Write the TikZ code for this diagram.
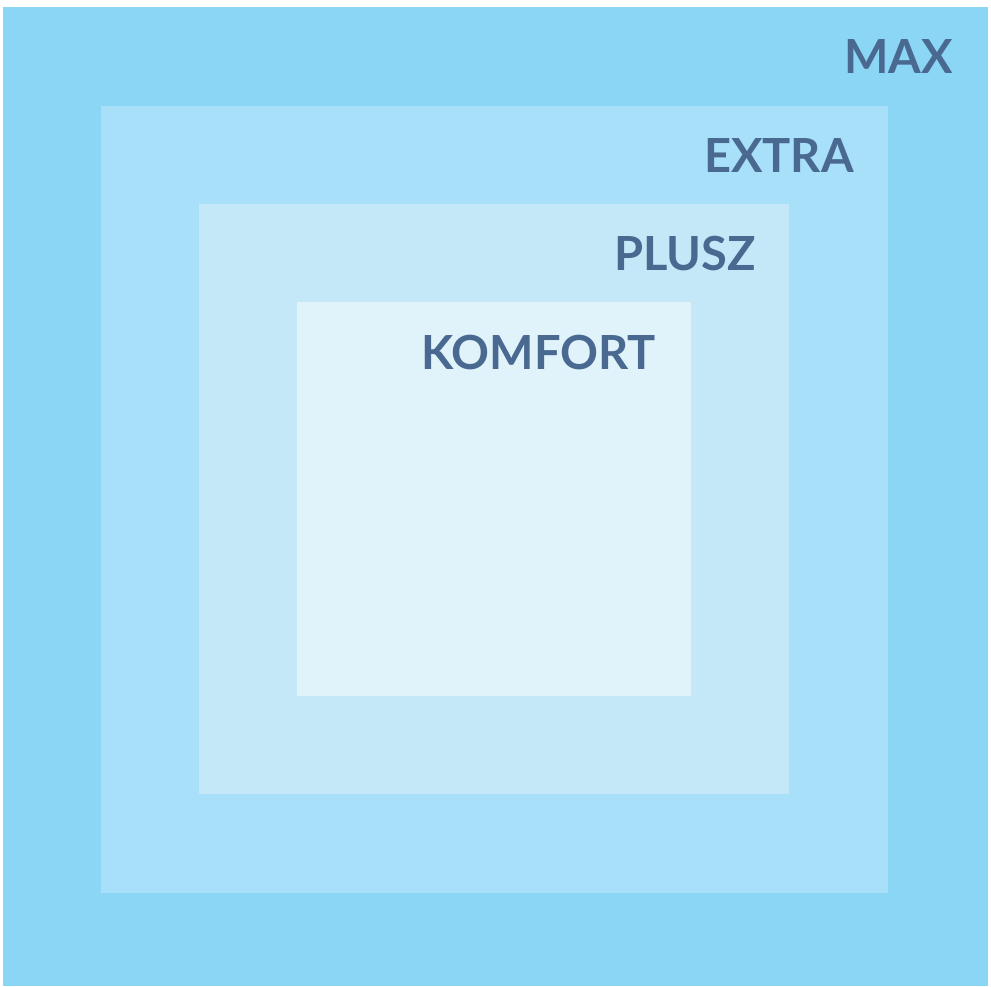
\documentclass[tikz,border=0pt]{standalone}
\usepackage{fontspec}
\setmainfont{Lato}
\definecolor{cmax}{HTML}{8BD5F5}
\definecolor{cextra}{HTML}{A8DFF9}
\definecolor{cplusz}{HTML}{C5E8F9}
\definecolor{ckomfort}{HTML}{E0F3FB}
\definecolor{ctext}{HTML}{4A6990}
\begin{document}
\begin{tikzpicture}[x=1pt,y=-1pt,
  lvl/.style={fill=#1,draw=none},
  lbl/.style={anchor=base east,inner sep=0pt,text=ctext,font=\fontsize{47}{47}\selectfont\bfseries}]
\useasboundingbox[fill=white] (0,0) rectangle (991,986);
\fill[lvl=cmax] (3,7) rectangle (988,986);
\fill[lvl=cextra] (101,106) rectangle (888,893);
\fill[lvl=cplusz] (199,204) rectangle (789,794);
\fill[lvl=ckomfort] (297,302) rectangle (691,696);
\node[lbl] (max) at (953,73) {MAX};
\node[lbl] (extra) at (854,172) {EXTRA};
\node[lbl] (plusz) at (756,270) {PLUSZ};
\node[lbl] (komfort) at (656,369) {KOMFORT};
\end{tikzpicture}
\end{document}
